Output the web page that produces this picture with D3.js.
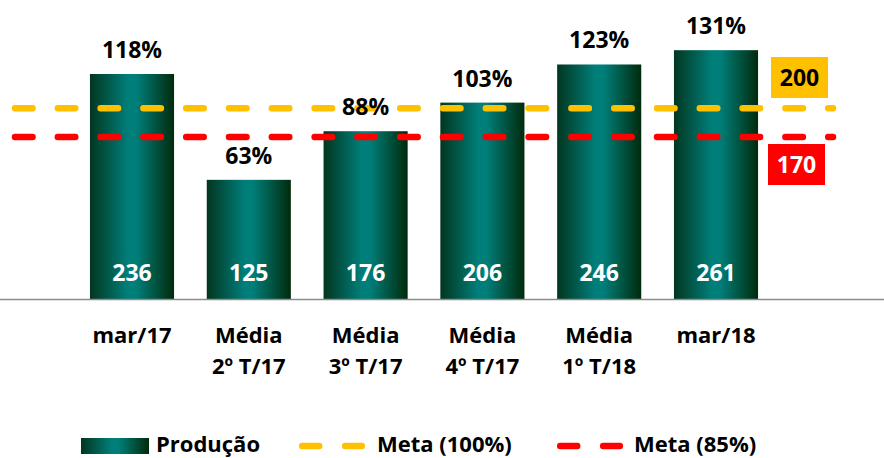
<!DOCTYPE html>
<html>
<head>
<meta charset="utf-8">
<script src="https://cdn.jsdelivr.net/npm/d3@7"></script>
<style>
  body { margin: 0; background: #fff; }
  text { font-family: 'Open Sans', 'Noto Sans', sans-serif; font-weight: bold; }
</style>
</head>
<body>
<svg id="chart"></svg>
<script>
// data
var categories = ['mar/17', 'Média\n2º T/17', 'Média\n3º T/17', 'Média\n4º T/17', 'Média\n1º T/18', 'mar/18'];
var producao = [236, 125, 176, 206, 246, 261];
var percent = ['118%', '63%', '88%', '103%', '123%', '131%'];
var meta100 = 200;
var meta85 = 170;

var width = 884;
var height = 458;
var baseline = 299;

var svg = d3.select('#chart').attr('width', width).attr('height', height);

var x = d3
  .scaleBand()
  .domain(categories)
  .range([73.6, 774.4])
  .paddingInner(0.28)
  .paddingOuter(0.14);
var y = d3.scaleLinear().domain([0, 300]).range([baseline, 13]);

// bar gradient (dark edges, teal centre)
var grad = svg
  .append('defs')
  .append('linearGradient')
  .attr('id', 'barGrad')
  .attr('x1', '0%')
  .attr('x2', '100%');
grad.append('stop').attr('offset', '0%').attr('stop-color', '#02361f');
grad.append('stop').attr('offset', '45%').attr('stop-color', '#007e79');
grad.append('stop').attr('offset', '55%').attr('stop-color', '#007e79');
grad.append('stop').attr('offset', '100%').attr('stop-color', '#002b0c');

svg
  .selectAll('rect.bar')
  .data(producao)
  .enter()
  .append('rect')
  .attr('class', 'bar')
  .attr('x', (d, i) => x(categories[i]))
  .attr('y', (d) => y(d))
  .attr('width', x.bandwidth())
  .attr('height', (d) => y(0) - y(d))
  .attr('fill', 'url(#barGrad)');

// axis line
svg
  .append('line')
  .attr('x1', 0)
  .attr('x2', width)
  .attr('y1', y(0) + 0.5)
  .attr('y2', y(0) + 0.5)
  .attr('stroke', '#8c8c8c')
  .attr('stroke-width', 1.5);

// goal lines
var lineX = [15, 833];
var goals = [
  { v: meta100, color: '#ffc000' },
  { v: meta85, color: '#ff0000' },
];
svg
  .selectAll('line.goal')
  .data(goals)
  .enter()
  .append('line')
  .attr('class', 'goal')
  .attr('x1', lineX[0])
  .attr('x2', lineX[1])
  .attr('y1', (d) => y(d.v))
  .attr('y2', (d) => y(d.v))
  .attr('stroke', (d) => d.color)
  .attr('stroke-width', 6.5)
  .attr('stroke-linecap', 'round')
  .attr('stroke-dasharray', '17.5,25.3');

// values inside bars
svg
  .selectAll('text.val')
  .data(producao)
  .enter()
  .append('text')
  .attr('class', 'val')
  .attr('x', (d, i) => x(categories[i]) + x.bandwidth() / 2)
  .attr('y', y(0) - 18)
  .attr('text-anchor', 'middle')
  .attr('font-size', 23)
  .attr('fill', '#fff')
  .text((d) => d);

// percentage labels above bars
svg
  .selectAll('text.pct')
  .data(producao)
  .enter()
  .append('text')
  .attr('class', 'pct')
  .attr('x', (d, i) => x(categories[i]) + x.bandwidth() / 2)
  .attr('y', (d) => y(d) - 16)
  .attr('text-anchor', 'middle')
  .attr('font-size', 23)
  .attr('fill', '#000')
  .text((d, i) => percent[i]);

// category labels
var cat = svg
  .selectAll('text.cat')
  .data(categories)
  .enter()
  .append('text')
  .attr('class', 'cat')
  .attr('text-anchor', 'middle')
  .attr('font-size', 22)
  .attr('fill', '#000');
cat
  .selectAll('tspan')
  .data((d) => d.split('\n').map((t) => ({ t: t, c: d })))
  .enter()
  .append('tspan')
  .attr('x', (d) => x(d.c) + x.bandwidth() / 2)
  .attr('y', (d, i) => baseline + 44 + i * 31)
  .text((d) => d.t);

// goal value boxes
var boxes = [
  { v: meta100, color: '#ffc000', text: '#000', x: 771, y: 57 },
  { v: meta85, color: '#ff0000', text: '#fff', x: 768, y: 144 },
];
svg
  .selectAll('rect.box')
  .data(boxes)
  .enter()
  .append('rect')
  .attr('x', (d) => d.x)
  .attr('y', (d) => d.y)
  .attr('width', 57)
  .attr('height', 41)
  .attr('fill', (d) => d.color);
svg
  .selectAll('text.box')
  .data(boxes)
  .enter()
  .append('text')
  .attr('x', (d) => d.x + 28.5)
  .attr('y', (d) => d.y + 28.5)
  .attr('text-anchor', 'middle')
  .attr('font-size', 23)
  .attr('fill', (d) => d.text)
  .text((d) => d.v);

// legend
var legend = svg.append('g');
legend
  .append('rect')
  .attr('x', 81)
  .attr('y', 438)
  .attr('width', 68)
  .attr('height', 16)
  .attr('fill', 'url(#barGrad)');
legend
  .append('text')
  .attr('x', 156)
  .attr('y', 452)
  .attr('font-size', 22)
  .text('Produção');
[
  { x: 299, color: '#ffc000', label: 'Meta (100%)', tx: 377 },
  { x: 557, color: '#ff0000', label: 'Meta (85%)', tx: 634 },
].forEach(function (d) {
  legend
    .append('line')
    .attr('x1', d.x + 3.2)
    .attr('x2', d.x + 62.8)
    .attr('y1', 446)
    .attr('y2', 446)
    .attr('stroke', d.color)
    .attr('stroke-width', 6.5)
    .attr('stroke-linecap', 'round')
    .attr('stroke-dasharray', '17,26');
  legend
    .append('text')
    .attr('x', d.tx)
    .attr('y', 452)
    .attr('font-size', 22)
    .text(d.label);
});
</script>
</body>
</html>
